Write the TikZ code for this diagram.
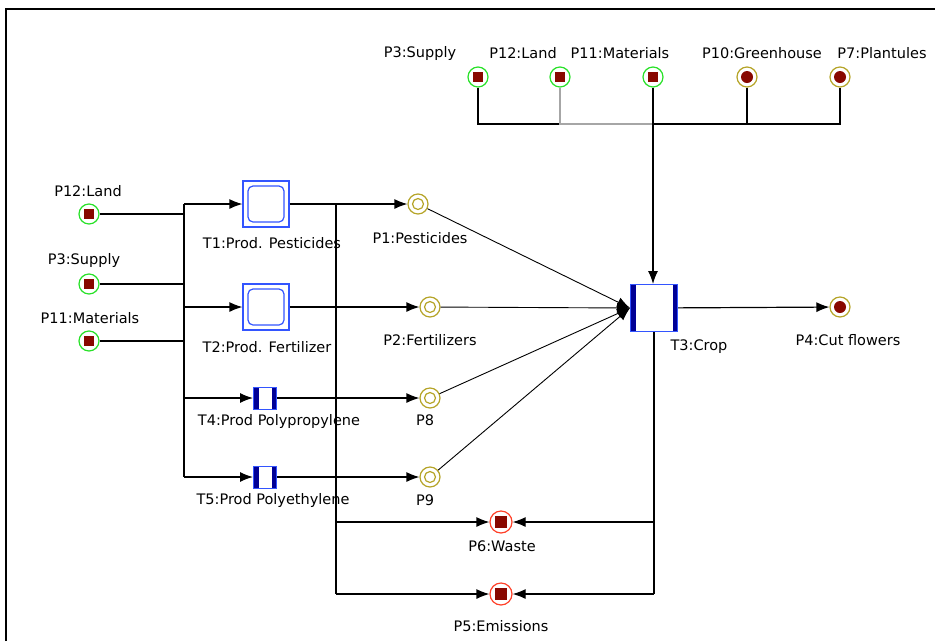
\documentclass[tikz,border=0pt]{standalone}
\usepackage{fontspec}
\setmainfont{DejaVu Sans}
\usetikzlibrary{arrows.meta,positioning}
\definecolor{MarkGreen}{RGB}{40,225,40}
\definecolor{TokenRed}{RGB}{136,8,0}
\definecolor{MarkOlive}{RGB}{181,164,40}
\definecolor{MarkRed}{RGB}{255,64,40}
\definecolor{TransBlue}{RGB}{51,85,255}
\definecolor{TransNavy}{RGB}{0,0,150}

\begin{document}
\begin{tikzpicture}[
  x=1pt, y=-1pt,
  font=\fontsize{14.5}{16}\selectfont,
  srcplace/.style={
    circle, minimum size=20pt, inner sep=0pt,
    draw=MarkGreen, line width=1.2pt,
    path picture={\fill[TokenRed] ([shift={(-5pt,-5pt)}]path picture bounding box.center) rectangle ++(10pt,10pt);}
  },
  resplace/.style={
    circle, minimum size=20pt, inner sep=0pt,
    draw=MarkOlive, line width=1.2pt,
    path picture={\fill[TokenRed] (path picture bounding box.center) circle (6pt);}
  },
  midplace/.style={
    circle, minimum size=20pt, inner sep=0pt,
    draw=MarkOlive, line width=1.2pt,
    path picture={\draw[MarkOlive, line width=1.2pt] (path picture bounding box.center) circle (5.5pt);}
  },
  wasteplace/.style={
    circle, minimum size=22pt, inner sep=0pt,
    draw=MarkRed, line width=1.2pt,
    path picture={\fill[TokenRed] ([shift={(-6pt,-6pt)}]path picture bounding box.center) rectangle ++(12pt,12pt);}
  },
  ptrans/.style={
    rectangle, minimum size=46pt, inner sep=0pt,
    draw=TransBlue, line width=1.2pt, fill=white,
    path picture={\draw[TransBlue, line width=1.2pt, rounded corners=5pt] ([shift={(-18pt,-18pt)}]path picture bounding box.center) rectangle ++(36pt,36pt);}
  },
  bars/.style={
    path picture={
      \fill[TransNavy] (path picture bounding box.north west) rectangle ([xshift=#1]path picture bounding box.south west);
      \fill[TransNavy] (path picture bounding box.north east) rectangle ([xshift=-#1]path picture bounding box.south east);}
  },
  ctrans/.style={
    rectangle, minimum size=47pt, inner sep=0pt,
    draw=TransBlue, line width=1pt, fill=white, bars=5pt
  },
  strans/.style={
    rectangle, minimum width=23pt, minimum height=22pt, inner sep=0pt,
    draw=TransBlue, line width=1pt, fill=white, bars=5pt
  },
  lbl/.style={inner sep=0pt},
  wire/.style={line width=1.2pt},
  arc/.style={-{Latex[length=13pt,width=10pt]}, line width=1.2pt},
  thinarc/.style={-{Latex[length=13pt,width=10pt]}, line width=0.9pt}
]

  \useasboundingbox (0,0) rectangle (935,641);
  \draw[line width=2.5pt] (6,641) -- (6,9) -- (935,9);

  % inputs of the crop
  \node[srcplace] (P3t)  at (478,77) {};
  \node[srcplace] (P12t) at (560,77) {};
  \node[srcplace] (P11t) at (653,77) {};
  \node[resplace] (P10t) at (747,77) {};
  \node[resplace] (P7t)  at (840,77) {};

  \node[lbl] (P3tl)  at (420,53) {P3:Supply};
  \node[lbl] (P12tl) at (523,53) {P12:Land};
  \node[lbl] (P11tl) at (620,53) {P11:Materials};
  \node[lbl] (P10tl) at (762,53) {P10:Greenhouse};
  \node[lbl] (P7tl)  at (882,53) {P7:Plantules};

  % resources on the left
  \node[srcplace] (P12) at (89,214) {};
  \node[srcplace] (P3)  at (89,284) {};
  \node[srcplace] (P11) at (89,341) {};

  \node[lbl] (P12l) at (88,191) {P12:Land};
  \node[lbl] (P3l)  at (84,260) {P3:Supply};
  \node[lbl] (P11l) at (90,318) {P11:Materials};

  % transitions
  \node[ptrans] (T1) at (266,204) {};
  \node[ptrans] (T2) at (266,307) {};
  \node[strans] (T4) at (265,398) {};
  \node[strans] (T5) at (265,477) {};
  \node[ctrans] (T3) at (654,308) {};

  \node[lbl] (T1l) at (272,243) {T1:Prod. Pesticides};
  \node[lbl] (T2l) at (267,347) {T2:Prod. Fertilizer};
  \node[lbl] (T4l) at (279,421) {T4:Prod Polypropylene};
  \node[lbl] (T5l) at (273,500) {T5:Prod Polyethylene};
  \node[lbl] (T3l) at (699,347) {T3:Crop};

  % products
  \node[midplace]   (P1) at (418,204) {};
  \node[midplace]   (P2) at (430,307) {};
  \node[midplace]   (P8) at (430,398) {};
  \node[midplace]   (P9) at (430,477) {};
  \node[resplace]   (P4) at (840,307) {};
  \node[wasteplace] (P6) at (501,522) {};
  \node[wasteplace] (P5) at (501,594) {};

  \node[lbl] (P1l) at (420,238) {P1:Pesticides};
  \node[lbl] (P2l) at (430,340) {P2:Fertilizers};
  \node[lbl] (P8l) at (425,420) {P8};
  \node[lbl] (P9l) at (425,500) {P9};
  \node[lbl] (P4l) at (848,340) {P4:Cut flowers};
  \node[lbl] (P6l) at (502,546) {P6:Waste};
  \node[lbl] (P5l) at (501,626) {P5:Emissions};

  \coordinate (jL)  at (184,0);
  \coordinate (jR)  at (336,0);
  \coordinate (bus) at (0,124);

  % top bus into T3
  \draw[wire] (P3t) -- (P3t |- bus) -- (P12t |- bus);
  \draw[wire, gray!70] (P12t) -- (P12t |- bus) -- (P11t |- bus);
  \draw[wire] (P11t |- bus) -- (P7t |- bus) -- (P7t);
  \draw[wire] (P10t) -- (P10t |- bus);
  \draw[arc] (P11t) -- (P11t |- T3.north);

  % left side feeds
  \draw[wire] (P12) -- (P12 -| jL);
  \draw[wire] (P3)  -- (P3 -| jL);
  \draw[wire] (P11) -- (P11 -| jL);
  \draw[wire] (T1.west -| jL) -- (T5.west -| jL);
  \draw[arc] (T1.west -| jL) -- (T1);
  \draw[arc] (T2.west -| jL) -- (T2);
  \draw[arc] (T4.west -| jL) -- (T4);
  \draw[arc] (T5.west -| jL) -- (T5);

  % products
  \draw[arc] (T1) -- (P1);
  \draw[arc] (T2) -- (P2);
  \draw[arc] (T4) -- (P8);
  \draw[arc] (T5) -- (P9);
  \draw[thinarc] (P1) -- (T3.west);
  \draw[thinarc] (P2) -- (T3.west);
  \draw[thinarc] (P8) -- (T3.west);
  \draw[thinarc] (P9) -- (T3.west);
  \draw[arc] (T3) -- (P4);

  % waste and emissions
  \draw[wire] (T1.east -| jR) -- (P5 -| jR);
  \draw[arc] (P6 -| jR) -- (P6);
  \draw[arc] (P5 -| jR) -- (P5);
  \draw[wire] (T3.south) -- (T3.south |- P5);
  \draw[arc] (T3.south |- P6) -- (P6);
  \draw[arc] (T3.south |- P5) -- (P5);

\end{tikzpicture}
\end{document}
